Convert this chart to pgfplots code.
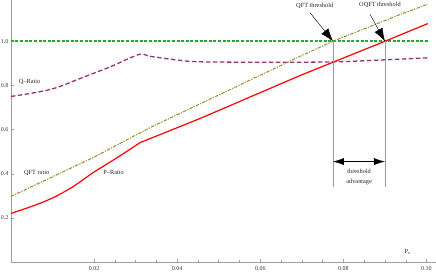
\documentclass[border=0pt]{standalone}
\usepackage{fontspec}
\setmainfont{Liberation Serif}
\usepackage{pgfplots}
\pgfplotsset{compat=1.18}
\usetikzlibrary{arrows.meta}

\definecolor{pcol}{RGB}{255,0,0}
\definecolor{qcol}{RGB}{150,50,120}
\definecolor{ocol}{RGB}{160,148,60}
\definecolor{thrcol}{RGB}{40,165,60}

\begin{document}
\begin{tikzpicture}
\begin{axis}[
  anchor=origin, at={(0pt,0pt)},
  scale only axis, width=425.1pt, height=262pt,
  xmin=0, xmax=0.10229, ymin=0, ymax=1.187,
  axis lines=left, axis line style={-, gray!75},
  tick align=inside,
  xtick={0.02,0.04,0.06,0.08,0.10},
  xticklabels={0.02,0.04,0.06,0.08,0.10},
  ytick={0.2,0.4,0.6,0.8,1.0},
  yticklabels={0.2,0.4,0.6,0.8,1.0},
  minor x tick num=3, minor y tick num=3,
  major tick length=3pt, minor tick length=1.6pt,
  every tick/.style={gray!75, thin},
  tick label style={font=\fontsize{6}{7}\selectfont, text=black!80},
  xticklabel style={yshift=-1pt},
  yticklabel style={xshift=1pt},
  clip=false,
]
% threshold line y=1
\addplot[thrcol, line width=1.6pt, dash pattern=on 3pt off 1.6pt] coordinates {(0,1.0) (0.1003,1.0)};
% Q-Ratio
\addplot[qcol, line width=1.3pt, dash pattern=on 4.5pt off 2.5pt, smooth, tension=0.55] coordinates {
 (0,0.750) (0.0060,0.768) (0.0110,0.790) (0.0166,0.831) (0.0240,0.885) (0.0308,0.940) (0.0335,0.932)
 (0.0400,0.915) (0.0455,0.907) (0.0600,0.905) (0.0700,0.905) (0.0800,0.908)
 (0.0900,0.916) (0.1003,0.925)};
% QFT ratio
\addplot[ocol, line width=1.1pt, dash pattern=on 3.5pt off 1.2pt on 1.2pt off 1.2pt] coordinates {
 (0,0.297) (0.0198,0.473) (0.0335,0.609) (0.0696,0.932) (0.0775,1.0)
 (0.0936,1.121) (0.1003,1.168)};
% P-Ratio
\addplot[pcol, line width=1.2pt, smooth, tension=0.6] coordinates {
 (0,0.220) (0.0050,0.252) (0.0100,0.290) (0.0150,0.342) (0.0198,0.405) (0.0255,0.472) (0.0311,0.541)};
\addplot[pcol, line width=1.2pt] coordinates {
 (0.0311,0.541) (0.0455,0.650) (0.0696,0.845) (0.0900,1.0) (0.1003,1.080)};

% vertical threshold lines
\draw[gray!80, line width=0.6pt] (axis cs:0.0775,1.0) -- (axis cs:0.0775,0.342);
\draw[gray!80, line width=0.6pt] (axis cs:0.0900,1.0) -- (axis cs:0.0900,0.338);
% double arrow
\draw[black, line width=0.4pt, {Latex[length=11pt,width=7pt]}-{Latex[length=11pt,width=7pt]}] (axis cs:0.0775,0.455) -- (axis cs:0.0900,0.455);
% threshold arrows
\draw[black, line width=0.4pt, -{Latex[length=13pt,width=9pt]}] (axis cs:0.0720,1.129) -- (axis cs:0.0775,1.0);
\draw[black, line width=0.4pt, -{Latex[length=13pt,width=9pt]}] (axis cs:0.0864,1.122) -- (axis cs:0.0900,1.0);

\begin{scope}[every node/.style={font=\fontsize{6.3}{7}\selectfont, text=black!85, inner sep=0pt}]
\node at (axis cs:0.0731,1.159) {QFT threshold};
\node at (axis cs:0.0888,1.163) {OQFT threshold};
\node at (axis cs:0.0838,0.410) {threshold};
\node at (axis cs:0.0838,0.364) {advantage};
\node at (axis cs:0.0045,0.817) {Q--Ratio};
\node at (axis cs:0.0062,0.405) {QFT ratio};
\node at (axis cs:0.0247,0.405) {P--Ratio};
\node at (axis cs:0.0955,0.047) {P$_{\mathrm{x}}$};
\end{scope}
\end{axis}
\pgfresetboundingbox
\path[use as bounding box] (-10.9pt,-11pt) rectangle (425.1pt,262pt);
\end{tikzpicture}
\end{document}
